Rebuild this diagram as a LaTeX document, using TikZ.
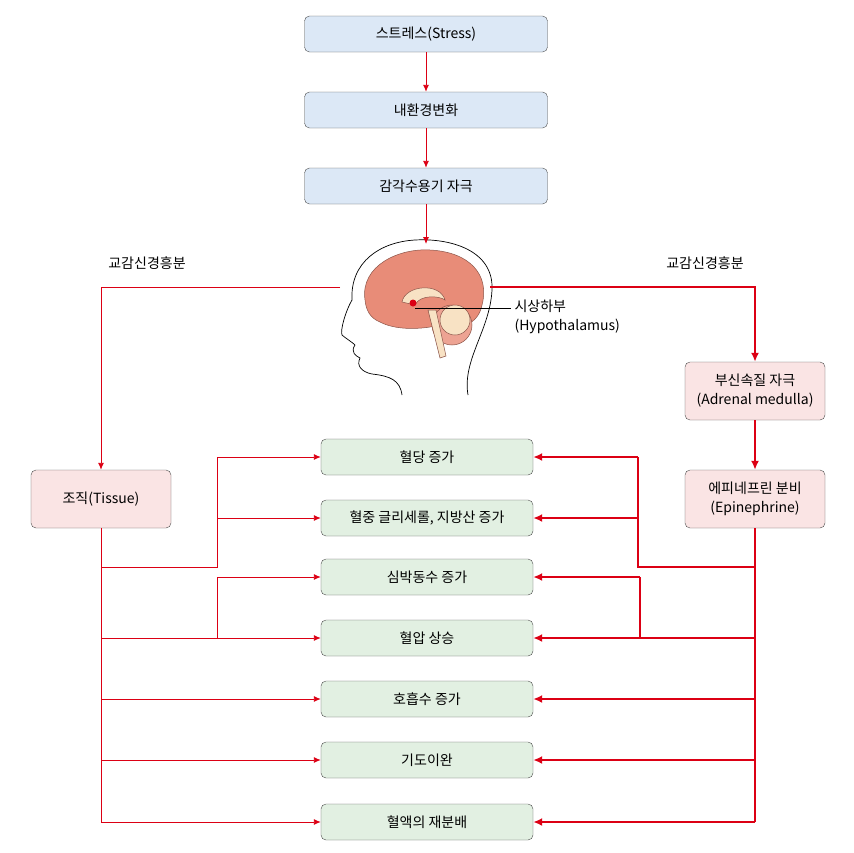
\documentclass[tikz,border=0pt]{standalone}
\usepackage{fontspec}
\setmainfont{Noto Sans CJK KR}
\usetikzlibrary{arrows.meta}
\definecolor{rd}{RGB}{220,0,20}
\definecolor{bl}{RGB}{220,232,246}
\definecolor{pk}{RGB}{250,228,228}
\definecolor{gr}{RGB}{226,240,226}
\definecolor{br}{RGB}{232,140,120}
\definecolor{crm}{RGB}{248,226,196}
\tikzset{
 box/.style={draw=black!70,rounded corners=5pt,minimum height=36pt,font=\fontsize{14}{19}\selectfont,align=center,inner sep=2pt},
 top/.style={box,fill=bl,minimum width=243pt},
 pkb/.style={box,fill=pk,minimum width=140pt,minimum height=58pt},
 grb/.style={box,fill=gr,minimum width=212pt},
 thin/.style={draw=rd,line width=0.9pt,-{Latex[length=7pt,width=6pt]}},
 thick/.style={draw=rd,line width=2.6pt,-{Latex[length=9pt,width=8pt]}},
 thickn/.style={draw=rd,line width=2.6pt},
 thinn/.style={draw=rd,line width=0.9pt},
 lbl/.style={font=\fontsize{14}{19}\selectfont}
}
\begin{document}
\begin{tikzpicture}[x=1pt,y=-1pt]
\useasboundingbox (0,0) rectangle (854,852);
\node[top] (s1) at (426,34) {스트레스(Stress)};
\node[top] (s2) at (426,110) {내환경변화};
\node[top] (s3) at (426,186) {감각수용기 자극};
% head
\draw[black,line width=0.7pt,fill=white] (468,395) .. controls (462,360) and (490,330) .. (492,290) .. controls (494,250) and (450,238) .. (415,240) .. controls (380,242) and (350,262) .. (352,300) .. controls (346,310) and (340,330) .. (342,335) .. controls (348,340) and (352,342) .. (355,345) .. controls (350,352) and (356,356) .. (360,358) .. controls (356,366) and (362,372) .. (372,374) .. controls (390,376) and (400,380) .. (402,395);
\coordinate (brainTop) at (426,244);
\draw[fill=br,draw=br!60!black,line width=0.5pt] (365,300) .. controls (360,265) and (400,248) .. (430,250) .. controls (470,252) and (490,275) .. (482,305) .. controls (478,325) and (460,330) .. (440,325) .. controls (420,330) and (395,330) .. (380,322) .. controls (370,318) and (366,310) .. (365,300) -- cycle;
\draw[fill=crm,draw=br!60!black,line width=0.5pt] (402,302) .. controls (405,285) and (440,282) .. (445,300) .. controls (440,296) and (420,294) .. (415,305) -- cycle;
\draw[fill=br!80!white,draw=br!60!black,line width=0.5pt] (452,325) circle[radius=20pt];
\draw[fill=crm,draw=br!60!black,line width=0.5pt] (455,320) circle[radius=15pt];
\draw[fill=crm,draw=br!60!black,line width=0.5pt] (428,310) -- (436,310) -- (446,356) -- (440,358) -- cycle;
\draw[fill=rd,draw=none] (413,303) circle[radius=3.5pt];
\node[lbl,align=left,anchor=west] (hy) at (511,317) {시상하부\\(Hypothalamus)};
\coordinate (hyp) at (415,308);
\draw[black,line width=0.7pt] (hyp) -- (hy.west |- 0,308);
\coordinate (hl) at (340,287);
\coordinate (hr) at (490,287);
\draw[thin] (s1) -- (s2);
\draw[thin] (s2) -- (s3);
\draw[thin] (s3) -- (brainTop);
\node[lbl] (l1) at (147,263) {교감신경흥분};
\node[lbl] (l2) at (705,263) {교감신경흥분};
\node[pkb] (ad) at (755,391) {부신속질 자극\\(Adrenal medulla)};
\node[pkb] (ep) at (755,499) {에피네프린 분비\\(Epinephrine)};
\node[pkb] (ti) at (101,499) {조직(Tissue)};
\node[grb] (g1) at (427,457) {혈당 증가};
\node[grb] (g2) at (427,518) {혈중 글리세롤, 지방산 증가};
\node[grb] (g3) at (427,577) {심박동수 증가};
\node[grb] (g4) at (427,638) {혈압 상승};
\node[grb] (g5) at (427,699) {호흡수 증가};
\node[grb] (g6) at (427,760) {기도이완};
\node[grb] (g7) at (427,822) {혈액의 재분배};
% right side
\draw[thick] (hr) -| (ad.north);
\draw[thick] (ad) -- (ep);
\draw[thickn] (ep.south) -- (755,822);
\draw[thickn] (755,567) -- (638,567) -- (638,457);
\draw[thick] (638,457) -- (g1.east);
\draw[thick] (638,518) -- (g2.east);
\draw[thickn] (640,638) -- (640,577);
\draw[thick] (640,577) -- (g3.east);
\draw[thick] (755,638) -- (g4.east);
\draw[thick] (755,699) -- (g5.east);
\draw[thick] (755,760) -- (g6.east);
\draw[thick] (755,822) -- (g7.east);
% left side
\draw[thin] (hl) -| (ti.north);
\draw[thinn] (ti.south) -- (101,822);
\draw[thinn] (101,567) -- (217,567) -- (217,457);
\draw[thin] (217,457) -- (g1.west);
\draw[thin] (217,518) -- (g2.west);
\draw[thinn] (217,638) -- (217,577);
\draw[thin] (217,577) -- (g3.west);
\draw[thin] (101,638) -- (g4.west);
\draw[thin] (101,699) -- (g5.west);
\draw[thin] (101,760) -- (g6.west);
\draw[thin] (101,822) -- (g7.west);
\end{tikzpicture}
\end{document}
